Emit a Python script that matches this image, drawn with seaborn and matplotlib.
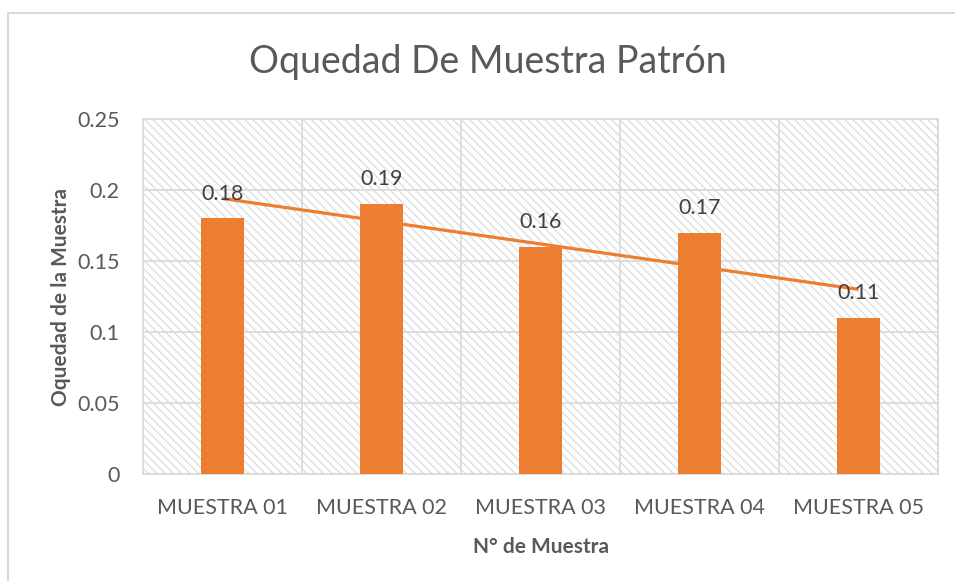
import numpy as np
import pandas as pd
import matplotlib
matplotlib.use("Agg")
import matplotlib.pyplot as plt
from matplotlib.patches import Rectangle
from matplotlib.lines import Line2D
import seaborn as sns

categorias = ["MUESTRA 01", "MUESTRA 02", "MUESTRA 03", "MUESTRA 04", "MUESTRA 05"]
oquedad = [0.18, 0.19, 0.16, 0.17, 0.11]
yticks = [0, 0.05, 0.1, 0.15, 0.2, 0.25]
ytick_labels = ["0", "0.05", "0.1", "0.15", "0.2", "0.25"]

naranja = "#ED7D31"
gris_txt = "#595959"
gris_grid = "#d9d9d9"

sns.set_style("white")
plt.rcParams['font.family'] = ['Lato', 'DejaVu Sans']
plt.rcParams['hatch.linewidth'] = 0.9

df = pd.DataFrame({"muestra": categorias, "oquedad": oquedad})

fig = plt.figure(figsize=(9.55, 5.81), dpi=100)
ax = fig.add_axes([143/955, 1 - 474/581, 795/955, 355/581])

# fondo rayado
ax.add_patch(Rectangle((0, 0), 1, 1, transform=ax.transAxes, facecolor="white",
                       edgecolor="#dcdcdc", hatch="\\\\\\\\", lw=0, zorder=0))

sns.barplot(data=df, x="muestra", y="oquedad", color=naranja, width=0.265,
            saturation=1, ax=ax, zorder=3, linewidth=0)

# linea de tendencia lineal
x = np.arange(len(oquedad))
m, b = np.polyfit(x, oquedad, 1)
ax.plot(x, m * x + b, color=naranja, lw=2.3, zorder=4, solid_capstyle="butt")

for i, v in enumerate(oquedad):
    ax.text(i, v + 0.0175, f"{v:.2f}", ha="center", va="center", fontsize=15.5,
            color="#404040", zorder=5)

ax.set_xlim(-0.5, len(categorias) - 0.5)
ax.set_ylim(0, 0.25)
ax.set_yticks(yticks)
ax.set_yticklabels(ytick_labels)
ax.set_xticks(np.arange(len(categorias) + 1) - 0.5, minor=True)
ax.grid(True, which="major", axis="y", color=gris_grid, lw=1.2, zorder=1)
ax.grid(True, which="minor", axis="x", color=gris_grid, lw=1.2, zorder=1)
ax.set_axisbelow(True)
ax.tick_params(axis="both", which="both", length=0, labelsize=15.5, labelcolor=gris_txt)
ax.tick_params(axis="x", pad=17)
ax.tick_params(axis="y", pad=17)
for s in ax.spines.values():
    s.set_color(gris_grid)
    s.set_linewidth(1.2)

ax.set_xlabel("N° de Muestra", fontsize=15, fontweight="bold", color=gris_txt, labelpad=14)
ax.set_ylabel("Oquedad de la Muestra", fontsize=15, fontweight="bold", color=gris_txt, labelpad=4)

fig.text(488/955, 1 - 62/581, "Oquedad De Muestra Patrón", ha="center", va="center",
         fontsize=27, color=gris_txt)

# borde exterior del grafico
fig.add_artist(Line2D([8/955, 8/955], [0, 1 - 13/581], color=gris_grid, lw=1.5))
fig.add_artist(Line2D([8/955, 1], [1 - 13/581, 1 - 13/581], color=gris_grid, lw=1.5))

fig.savefig("out.png", dpi=100)
